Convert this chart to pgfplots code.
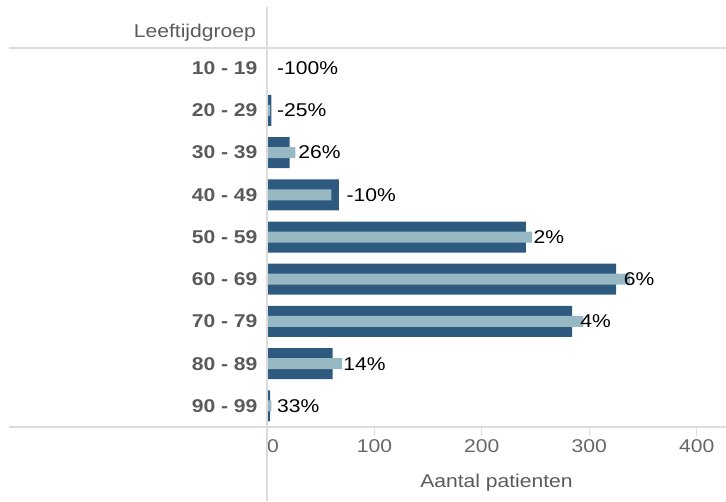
\documentclass[border=0pt]{standalone}
\usepackage{pgfplots}
\pgfplotsset{compat=1.18}
\usepackage{pgfplotstable}
\usepackage{fontspec}
\setmainfont{Liberation Sans}[FakeStretch=1.14]
\definecolor{darkb}{HTML}{2E5A80}
\definecolor{lightb}{HTML}{97B9C4}
\definecolor{lineg}{HTML}{DCDCDC}
\definecolor{labg}{HTML}{5A5A5A}
\definecolor{tickg}{HTML}{666666}

\pgfplotstableread{
idx prev cur lx lab
0 0 0 9.3 -100
1 4 3 9.3 -25
2 21 26.5 29 26
3 67 60 74 -10
4 241 246.5 248 2
5 325 338 332 6
6 284 294.5 291.5 4
7 61 70 71 14
8 3 4 9.3 33
}\data

\begin{document}
\begin{tikzpicture}[x=1pt,y=1pt]
\useasboundingbox (0,0) rectangle (726,501);
\begin{axis}[
  at={(267pt,74pt)}, anchor=south west,
  scale only axis, width=459pt, height=380pt,
  xmin=0, xmax=427.3, ymin=-0.5, ymax=8.5, y dir=reverse,
  axis x line*=bottom, axis y line*=left,
  x axis line style={draw=none}, y axis line style={draw=none},
  xtick={0,100,200,300,400},
  xticklabels={\hspace*{12pt}0,100,200,300,400},
  tick align=outside, major tick length=9pt,
  xtick style={lineg, line width=1.2pt},
  ytick={0,...,8}, ytick style={draw=none},
  yticklabels={10 - 19,20 - 29,30 - 39,40 - 49,50 - 59,60 - 69,70 - 79,80 - 89,90 - 99},
  yticklabel style={font=\fontsize{18.5}{20}\selectfont\bfseries, text=labg, xshift=3pt},
  xticklabel style={font=\fontsize{18.5}{20}\selectfont, text=tickg},
  /pgf/number format/assume math mode=true,
  xlabel={Aantal patienten},
  xlabel style={font=\fontsize{18.5}{20}\selectfont, text=labg, xshift=0pt, yshift=-15pt},
  clip=false,
]
\addplot[xbar, bar width=31pt, bar shift=0pt, fill=darkb, draw=none] table[x=prev, y=idx] {\data};
\addplot[xbar, bar width=11pt, bar shift=0pt, fill=lightb, draw=none] table[x=cur, y=idx] {\data};
\addplot[xbar, bar width=1pt, bar shift=0pt, draw=none, fill=none,
  point meta=explicit symbolic,
  nodes near coords={\pgfplotspointmeta\%},
  every node near coord/.append style={anchor=west, inner sep=0pt, font=\fontsize{18.5}{20}\selectfont, text=black}]
  table[x=lx, y=idx, meta=lab] {\data};
\end{axis}
\draw[lineg, line width=1.5pt] (9,453) -- (726,453);
\draw[lineg, line width=1.5pt] (9,74) -- (726,74);
\draw[lineg, line width=1.5pt] (267,0) -- (267,494);
\node[anchor=east, text=labg, font=\fontsize{18.5}{20}\selectfont, inner sep=0pt] at (256,468) {Leeftijdgroep};
\end{tikzpicture}
\end{document}
